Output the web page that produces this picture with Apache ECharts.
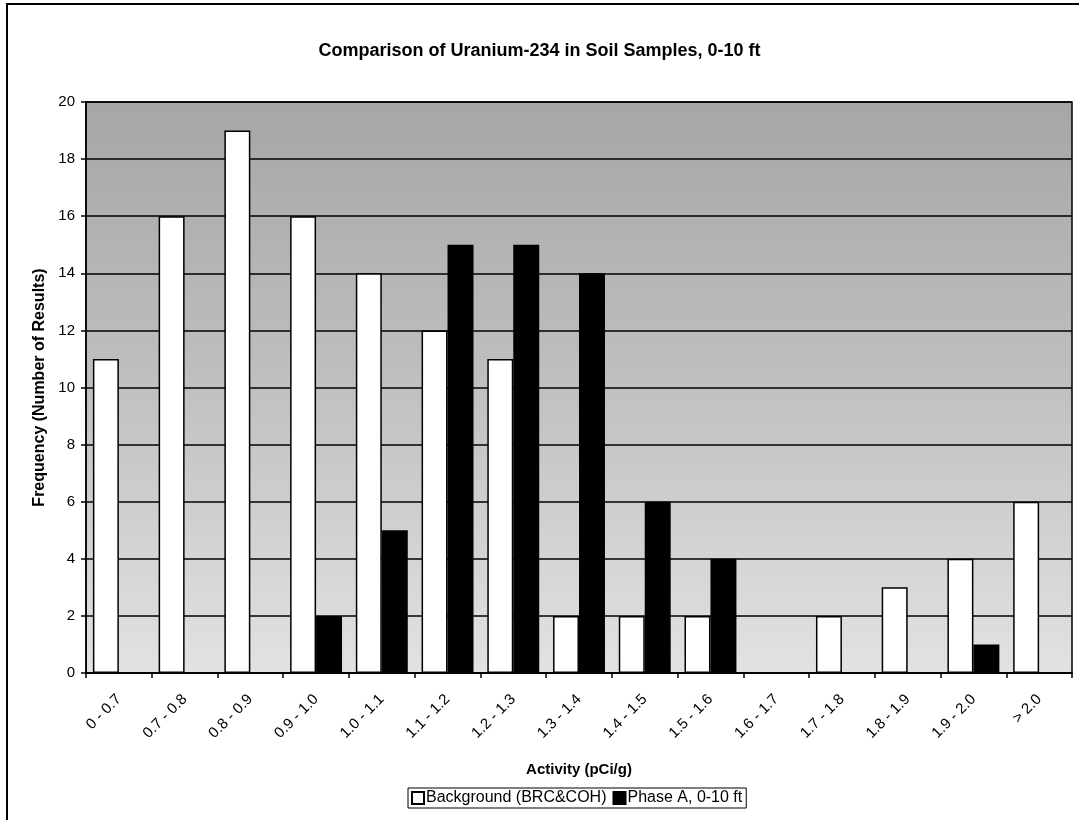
<!DOCTYPE html>
<html>
<head>
<meta charset="utf-8">
<script src="https://cdn.jsdelivr.net/npm/echarts@6/dist/echarts.min.js"></script>
<style>
html,body{margin:0;padding:0;background:#fff;}
#chart{width:1079px;height:820px;}
</style>
</head>
<body>
<div id="chart"></div>
<script>
const categories = ['0 - 0.7','0.7 - 0.8','0.8 - 0.9','0.9 - 1.0','1.0 - 1.1','1.1 - 1.2','1.2 - 1.3','1.3 - 1.4','1.4 - 1.5','1.5 - 1.6','1.6 - 1.7','1.7 - 1.8','1.8 - 1.9','1.9 - 2.0','> 2.0'];
const background = [11,16,19,16,14,12,11,2,2,2,0,2,3,4,6];
const phaseA = [0,0,0,2,5,15,15,14,6,4,0,0,0,1,0];
const yTicks = {min:0, max:20, interval:2};

const chart = echarts.init(document.getElementById('chart'));
const font = 'Liberation Sans, Arial, sans-serif';
chart.setOption({
  backgroundColor:'#fff',
  animation:false,
  graphic:[{
    type:'rect', shape:{x:7,y:4,width:1100,height:840},
    style:{fill:'none',stroke:'#000',lineWidth:2}, silent:true, z:-1
  }],
  title:{
    text:'Comparison of Uranium-234 in Soil Samples, 0-10 ft',
    left:'center', top:37,
    textStyle:{fontFamily:font,fontSize:18,fontWeight:'bold',color:'#000'}
  },
  legend:{
    bottom:12, left:408,
    itemWidth:12,itemHeight:12,itemGap:6,
    borderColor:'#000',borderWidth:1,padding:[2,4,2,3],
    backgroundColor:'#fff',
    icon:'rect',
    textStyle:{fontFamily:font,fontSize:16,color:'#000',padding:[0,0,0,-3]},
    data:['Background (BRC&COH)','Phase A, 0-10 ft']
  },
  grid:{
    left:86, right:7, top:102, bottom:147,
    show:true,
    backgroundColor:new echarts.graphic.LinearGradient(0,0,0,1,[
      {offset:0,color:'#a6a6a6'},{offset:0.45,color:'#bdbdbd'},{offset:1,color:'#e2e2e2'}
    ]),
    borderColor:'#000',borderWidth:1.5
  },
  xAxis:{
    type:'category', data:categories,
    name:'Activity (pCi/g)', nameLocation:'middle', nameGap:89,
    nameTextStyle:{fontFamily:font,fontSize:15,fontWeight:'bold',color:'#000'},
    axisLine:{lineStyle:{color:'#000',width:1.5}},
    axisTick:{show:true,alignWithLabel:false,length:5,lineStyle:{color:'#000',width:1.5}},
    axisLabel:{rotate:45,interval:0,fontFamily:font,fontSize:15,color:'#000',margin:24}
  },
  yAxis:{
    type:'value', min:yTicks.min, max:yTicks.max, interval:yTicks.interval,
    name:'Frequency (Number of Results)', nameLocation:'middle', nameGap:37,
    nameTextStyle:{fontFamily:font,fontSize:16,fontWeight:'bold',color:'#000'},
    axisLine:{show:true,lineStyle:{color:'#000',width:1.5}},
    axisTick:{show:true,length:5,lineStyle:{color:'#000',width:1.5}},
    axisLabel:{fontFamily:font,fontSize:15,color:'#000',margin:11},
    splitLine:{lineStyle:{color:'#000',width:1.5}}
  },
  series:[
    {name:'Background (BRC&COH)',type:'bar',data:background,barGap:'0%',barCategoryGap:'21%',
     itemStyle:{color:'#fff',borderColor:'#000',borderWidth:1.5}},
    {name:'Phase A, 0-10 ft',type:'bar',data:phaseA,
     itemStyle:{color:'#000',borderColor:'#000',borderWidth:1.5}}
  ]
});
</script>
</body>
</html>
